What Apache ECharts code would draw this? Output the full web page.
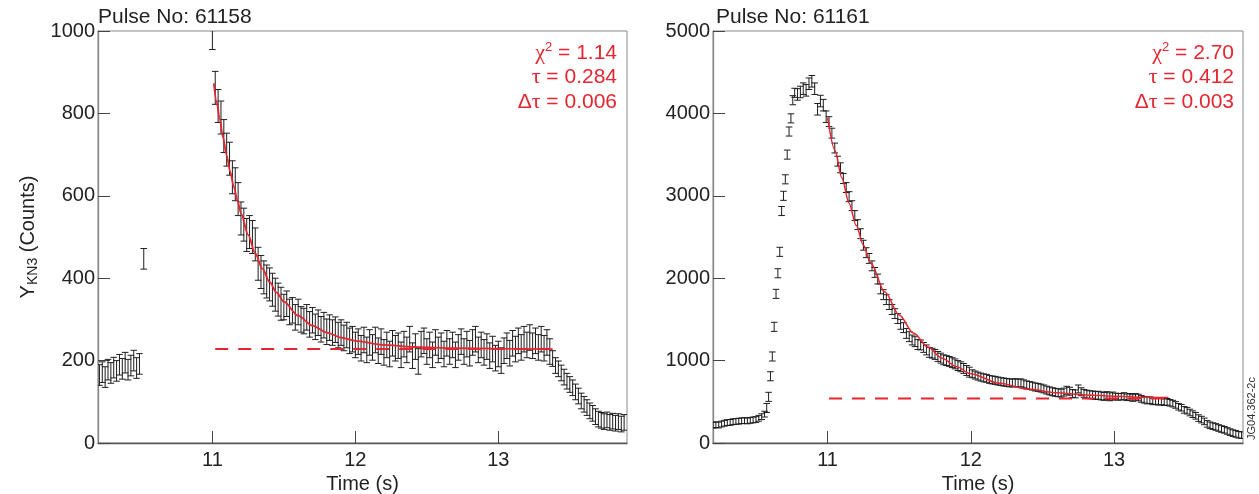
<!DOCTYPE html>
<html><head><meta charset="utf-8">
<script src="https://cdn.jsdelivr.net/npm/echarts@6/dist/echarts.min.js"></script>
<style>html,body{margin:0;padding:0;background:#fff}#c{width:1259px;height:494px}</style>
</head><body><div id="c"></div>
<script>
// ---------------- DATA ----------------
const xTicks = [11, 12, 13];
const xTickLabels = ['11', '12', '13'];
const leftYTicks = [0, 200, 400, 600, 800, 1000];
const rightYTicks = [0, 1000, 2000, 3000, 4000, 5000];

// Pulse 61158 – counts, sampled every 0.02 s (segment start times noted)
const leftPre = [165,172,160,178,170,183,175,190,180,195,178,188,200,182,192];        // from 10.21
const leftSpike = [447];                                                                  // 10.52
const leftFirst = [978];                                                                  // 11.00
const leftDecayA = [862,818,790,745,712,690,645,628,592,545,
                    530,505,512,500,482,435,415,402,392,385,
                    372,360,348,338];                                                      // from 11.02
const leftDecayB = [330,338,318,322,305,318,300,296,305,288,
                    298,282,292,276,286,270,280,268,275,262,
                    268,255,262,248,252,238,246,230,250,226,
                    244,232,250,224,246,220,238,216,242,230,
                    236,214,240,226,252,212,234,198,240,248,
                    222,238,214,244,226,236,216,242,222,238,
                    214,232,246,222,240,218,244,252,226,238,
                    220,234,212,228,206,216,200,224,236,218,
                    242,228,248,232,252,238,256,236,248,232,
                    252,230,244,222];                                                      // from 11.50
const leftTail = [205,188,180,170,160,150,142,134,124,114,
                  102,94,86,78,72,64,58,55,52,56,
                  50,53,48,52,46,50];                                                      // from 13.38
const leftFitT = [11.01,11.03,11.05,11.075,11.10,11.125,11.15,11.175,11.20,11.25,11.30,11.35,11.40,11.45,11.50,11.60,11.70,11.80,11.90,12.00,12.20,12.40,12.70,13.00,13.38];
const leftFitY = [873,829,789,741,698,658,622,589,558,505,460,423,391,365,343,309,285,268,256,248,238,233,230,229,228];
const leftBaseT = [11.02, 13.38];
const leftBaseY = [228, 228];

// Pulse 61161
const rightPre = [215,222,218,230,240,248,250,258,262,265,270,272,268,275,280,285,300,320,350]; // from 10.20, 0.02 s
const rightRise = [425,560,810,1050,1410,1810,2060,2320,2815,3000,3200,3500,3780,3940,4160,4250]; // from 10.575, 0.013 s
const rightPeak = [4230,4260,4300,4280,4360,4390,4300,4050,4150,4100,3960];             // from 10.79
const rightDecayA = [3900,3760,3580,3420,3340,3210,3100,2990,2880,2760,
                     2650,2540,2400,2310,2240,2150,2070,1990,1870,1800,
                     1740,1680,1620,1570,1510,1440,1400,1330,1290,1250,
                     1230,1195,1190,1160,1130,1100,1090,1075,1050,1030,
                     1010,1000,990,975,960,940,925,905,880,860];                         // from 11.01
const rightDecayB = [840,825,812,800,790,785,772,765,760,752,
                     745,740,735,730,728,732,726,730,718,705,
                     698,690,680,675,666,656,642,632,622,615,
                     610,606,618,640,628,600,596,656,622,602,
                     592,586,583,576,580,571,566,575,561,570];                           // from 12.01
const rightDecayC = [565,560,562,570,555,560,546,560,552,535,
                     525,515,520,505,510,500,505,495,500,488,
                     478,462,440,428,402,392,370,350,330,302,
                     284,262,232,215,205,195,182,170,160,146,
                     132,120,110,100,95];                                                 // from 13.01
const rightFitT = [11.00,11.05,11.10,11.15,11.20,11.25,11.30,11.40,11.50,11.60,11.70,11.80,11.90,12.00,12.20,12.40,12.60,12.80,13.00,13.20,13.38];
const rightFitY = [3950,3560,3215,2910,2639,2399,2186,1832,1553,1335,1164,1029,924,841,725,654,610,583,567,556,551];
const rightBaseT = [11.01, 13.38];
const rightBaseY = [540, 540];

// ---------------- BUILD ----------------
function build(segs) {
  const out = [];
  segs.forEach(s => s.vals.forEach((v, i) => out.push([+(s.t0 + i * s.dt).toFixed(4), v, s.err])));
  return out;
}
const leftData = build([
  {t0: 10.21, dt: 0.02, err: 25, vals: leftPre},
  {t0: 10.52, dt: 0.02, err: 25, vals: leftSpike},
  {t0: 11.00, dt: 0.02, err: 23, vals: leftFirst},
  {t0: 11.02, dt: 0.02, err: 40, vals: leftDecayA},
  {t0: 11.50, dt: 0.02, err: 31, vals: leftDecayB},
  {t0: 13.38, dt: 0.02, err: 19, vals: leftTail}
]);
const rightData = build([
  {t0: 10.20, dt: 0.02, err: 35, vals: rightPre},
  {t0: 10.575, dt: 0.013, err: 55, vals: rightRise},
  {t0: 10.79, dt: 0.02, err: 70, vals: rightPeak},
  {t0: 11.01, dt: 0.02, err: 60, vals: rightDecayA},
  {t0: 12.01, dt: 0.02, err: 48, vals: rightDecayB},
  {t0: 13.01, dt: 0.02, err: 40, vals: rightDecayC}
]);
const zip = (a, b) => a.map((t, i) => [t, b[i]]);

const FONT = "'Liberation Sans', Arial, Helvetica, sans-serif";
const RED = '#e52630';
const INK = '#1e1e1e';

function renderErr(params, api) {
  const x = api.value(0), y = api.value(1), e = api.value(2);
  const p1 = api.coord([x, y + e]);
  const p2 = api.coord([x, y - e]);
  const hw = 3.3;
  const st = {stroke: INK, lineWidth: 1};
  return {type: 'group', children: [
    {type: 'line', shape: {x1: p1[0], y1: p1[1], x2: p2[0], y2: p2[1]}, style: st},
    {type: 'line', shape: {x1: p1[0] - hw, y1: p1[1], x2: p1[0] + hw, y2: p1[1]}, style: st},
    {type: 'line', shape: {x1: p2[0] - hw, y1: p2[1], x2: p2[0] + hw, y2: p2[1]}, style: st}
  ]};
}

function xAxis(gi) {
  return {
    gridIndex: gi, type: 'value', min: 10.2, max: 13.9,
    axisLine: {show: true, lineStyle: {color: '#555', width: 1.3}},
    axisTick: {show: true, inside: true, length: 12, customValues: xTicks, lineStyle: {color: '#444', width: 1}},
    axisLabel: {customValues: xTicks, formatter: v => xTickLabels[xTicks.indexOf(v)] ?? '', fontSize: 20, color: '#222', fontFamily: FONT, margin: 7},
    splitLine: {show: false},
    name: 'Time (s)', nameLocation: 'middle', nameGap: 26,
    nameTextStyle: {fontSize: 20, color: '#222', fontFamily: FONT}
  };
}
function yAxis(gi, ticks, extra) {
  return Object.assign({
    gridIndex: gi, type: 'value', min: ticks[0], max: ticks[ticks.length - 1], interval: ticks[1] - ticks[0],
    axisLine: {show: true, lineStyle: {color: '#888', width: 1.3}},
    axisTick: {show: true, inside: true, length: 12, lineStyle: {color: '#444', width: 1}},
    axisLabel: {fontSize: 20, color: '#222', fontFamily: FONT, margin: 3, formatter: v => String(v)},
    splitLine: {show: false}
  }, extra || {});
}

const statRich = {
  g: {fontSize: 22, fontFamily: "'Liberation Serif', serif", color: RED, lineHeight: 25, verticalAlign: 'middle'},
  a: {fontSize: 21, fontFamily: FONT, color: RED, lineHeight: 25, verticalAlign: 'middle'},
  s: {fontSize: 13, fontFamily: FONT, color: RED, lineHeight: 25, verticalAlign: 'top'}
};
function statText(x, lines) {
  return lines.map((t, i) => ({
    type: 'text', x: x, y: 53 + i * 24.5,
    style: {text: t, align: 'right', verticalAlign: 'middle', rich: statRich, fill: RED}
  }));
}

const gridBase = {top: 31, height: 412, show: true, borderColor: '#888', borderWidth: 1,
  backgroundColor: 'transparent', containLabel: false, outerBoundsMode: 'none'};

const option = {
  animation: false,
  backgroundColor: '#fff',
  textStyle: {fontFamily: FONT},
  title: [
    {text: 'Pulse No: 61158', left: 98, top: 7, padding: 0, textStyle: {fontSize: 21, fontWeight: 'normal', color: '#222', fontFamily: FONT}},
    {text: 'Pulse No: 61161', left: 716, top: 7, padding: 0, textStyle: {fontSize: 21, fontWeight: 'normal', color: '#222', fontFamily: FONT}}
  ],
  grid: [
    Object.assign({left: 98, width: 529}, gridBase),
    Object.assign({left: 713, width: 530}, gridBase)
  ],
  xAxis: [xAxis(0), xAxis(1)],
  yAxis: [
    yAxis(0, leftYTicks, {
      name: '{a|Y}{b|KN3}{a| (Counts)}', nameLocation: 'middle', nameRotate: 90, nameGap: 58,
      nameTextStyle: {rich: {
        a: {fontSize: 20, color: '#222', fontFamily: FONT, lineHeight: 24, verticalAlign: 'middle'},
        b: {fontSize: 14, color: '#222', fontFamily: FONT, lineHeight: 24, verticalAlign: 'bottom'}
      }}
    }),
    yAxis(1, rightYTicks)
  ],
  series: [
    {type: 'custom', xAxisIndex: 0, yAxisIndex: 0, renderItem: renderErr, data: leftData, clip: true, z: 2},
    {type: 'line', xAxisIndex: 0, yAxisIndex: 0, data: zip(leftBaseT, leftBaseY), showSymbol: false,
      lineStyle: {color: RED, width: 2, type: [13, 10]}, z: 3},
    {type: 'line', xAxisIndex: 0, yAxisIndex: 0, data: zip(leftFitT, leftFitY), showSymbol: false, smooth: 0.3, smoothMonotone: 'x',
      lineStyle: {color: RED, width: 1.8}, z: 4},
    {type: 'custom', xAxisIndex: 1, yAxisIndex: 1, renderItem: renderErr, data: rightData, clip: true, z: 2},
    {type: 'line', xAxisIndex: 1, yAxisIndex: 1, data: zip(rightBaseT, rightBaseY), showSymbol: false,
      lineStyle: {color: RED, width: 2, type: [13, 10]}, z: 3},
    {type: 'line', xAxisIndex: 1, yAxisIndex: 1, data: zip(rightFitT, rightFitY), showSymbol: false, smooth: 0.3, smoothMonotone: 'x',
      lineStyle: {color: RED, width: 1.5}, z: 4}
  ],
  graphic: [].concat(
    statText(617, ['{g|χ}{s|2}{a| = 1.14}', '{g|τ}{a| = 0.284}', '{a|Δ}{g|τ}{a| = 0.006}']),
    statText(1234, ['{g|χ}{s|2}{a| = 2.70}', '{g|τ}{a| = 0.412}', '{a|Δ}{g|τ}{a| = 0.003}']),
    [{type: 'text', x: 1252, y: 440, rotation: Math.PI / 2,
      style: {text: 'JG04.362-2c', fontSize: 11, fontFamily: FONT, fill: '#333', align: 'left', verticalAlign: 'middle'}}]
  )
};
const chart = echarts.init(document.getElementById('c'), null, {renderer: 'canvas'});
chart.setOption(option);
</script></body></html>
